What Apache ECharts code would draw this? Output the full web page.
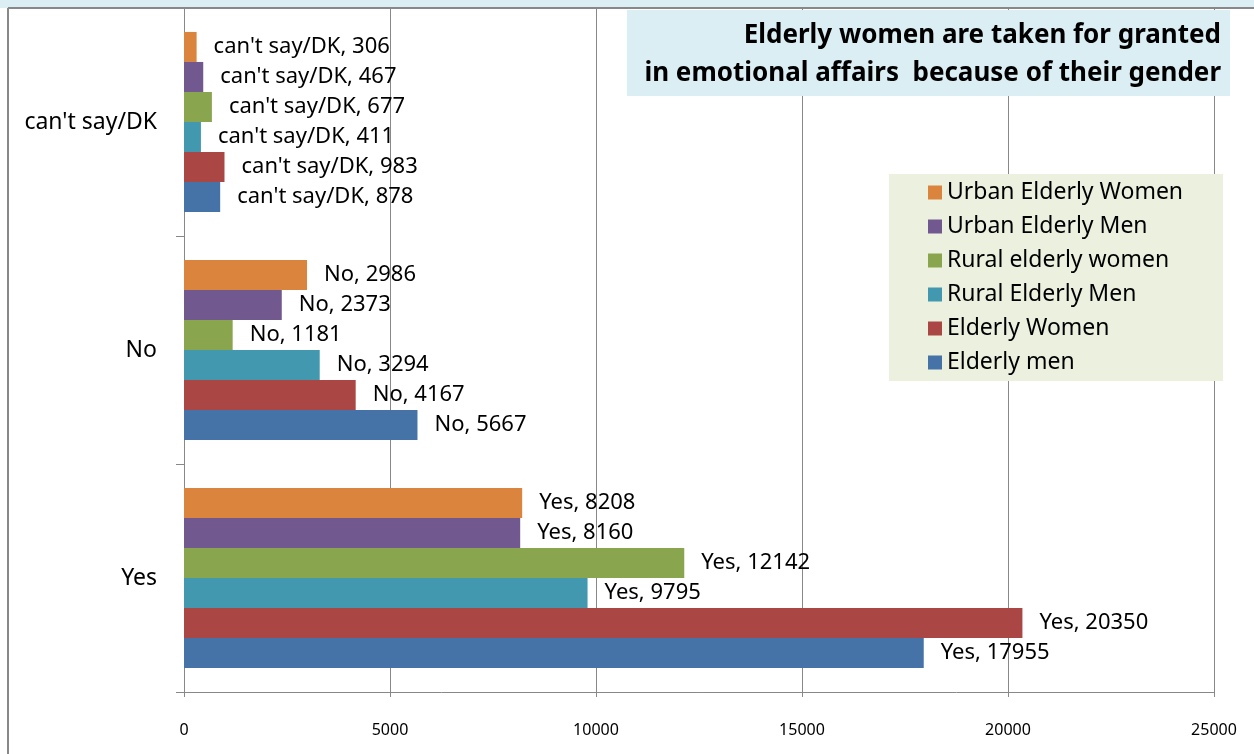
<!DOCTYPE html>
<html>
<head>
<meta charset="utf-8">
<script src="https://cdn.jsdelivr.net/npm/echarts@6/dist/echarts.min.js"></script>
<style>
  html, body { margin: 0; padding: 0; background: #fff; }
  #chart { width: 1254px; height: 754px; }
</style>
</head>
<body>
<div id="chart"></div>
<script>
// categories, bottom to top
var categories = ['Yes', 'No', "can't say/DK"];
// series, top bar to bottom bar inside each group
var seriesNames = ['Urban Elderly Women', 'Urban Elderly Men', 'Rural elderly women', 'Rural Elderly Men', 'Elderly Women', 'Elderly men'];
var urbanWomen = [8208, 2986, 306];
var urbanMen = [8160, 2373, 467];
var ruralWomen = [12142, 1181, 677];
var ruralMen = [9795, 3294, 411];
var elderlyWomen = [20350, 4167, 983];
var elderlyMen = [17955, 5667, 878];
var xTicks = [0, 5000, 10000, 15000, 20000, 25000];

var colors = ['#DB843D', '#71588F', '#89A54E', '#4198AF', '#AA4643', '#4572A7'];
var values = [urbanWomen, urbanMen, ruralWomen, ruralMen, elderlyWomen, elderlyMen];
var font = 'Noto Sans';

var chart = echarts.init(document.getElementById('chart'));

var series = seriesNames.map(function (name, i) {
  return {
    name: name,
    type: 'bar',
    data: values[i],
    barGap: '0%',
    barCategoryGap: '21%',
    itemStyle: { color: colors[i] },
    label: {
      show: true,
      position: 'right',
      distance: 17,
      formatter: '{b}, {c}',
      color: '#000',
      fontFamily: font,
      fontSize: 22
    }
  };
});

var option = {
  animation: false,
  textStyle: { fontFamily: font },
  grid: { left: 184, right: 40, top: 8, bottom: 62, containLabel: false },
  xAxis: {
    type: 'value',
    min: xTicks[0],
    max: xTicks[xTicks.length - 1],
    interval: 5000,
    axisLine: { show: true, lineStyle: { color: '#888', width: 1 } },
    axisTick: { show: true, length: 5, lineStyle: { color: '#888' } },
    splitLine: { show: true, lineStyle: { color: '#888', width: 1 } },
    axisLabel: { color: '#000', fontSize: 16, margin: 30, fontFamily: font, formatter: function (v) { return String(v); } }
  },
  yAxis: {
    type: 'category',
    data: categories,
    axisLine: { show: true, lineStyle: { color: '#888' } },
    axisTick: { show: true, length: 8, inside: false, lineStyle: { color: '#888' } },
    axisLabel: { color: '#000', fontSize: 23, margin: 27, fontFamily: font }
  },
  legend: {
    data: seriesNames,
    orient: 'vertical',
    left: 889,
    top: 174,
    padding: [7, 40, 7, 39],
    backgroundColor: '#EBF1DE',
    itemWidth: 14,
    itemHeight: 14,
    itemGap: 11,
    icon: 'rect',
    textStyle: { color: '#000', fontSize: 23, fontFamily: font }
  },
  graphic: [
    { type: 'rect', shape: { x: 0, y: 0, width: 1254, height: 8 }, style: { fill: '#DBEEF3' }, z: 100 },
    { type: 'line', shape: { x1: 8, y1: 8, x2: 1254, y2: 8 }, style: { stroke: '#888', lineWidth: 2 }, z: 100 },
    { type: 'line', shape: { x1: 8, y1: 8, x2: 8, y2: 754 }, style: { stroke: '#888', lineWidth: 2 }, z: 100 },
    { type: 'rect', shape: { x: 627, y: 10, width: 603, height: 86 }, style: { fill: '#DAEEF3' }, z: 100 },
    {
      type: 'text', x: 1221, y: 55, z: 101,
      style: {
        text: 'Elderly women are taken for granted\nin emotional affairs  because of their gender',
        align: 'right', verticalAlign: 'middle',
        fill: '#000', fontFamily: font, fontWeight: 'bold', fontSize: 26, lineHeight: 38
      }
    }
  ],
  series: series
};

chart.setOption(option);
</script>
</body>
</html>
